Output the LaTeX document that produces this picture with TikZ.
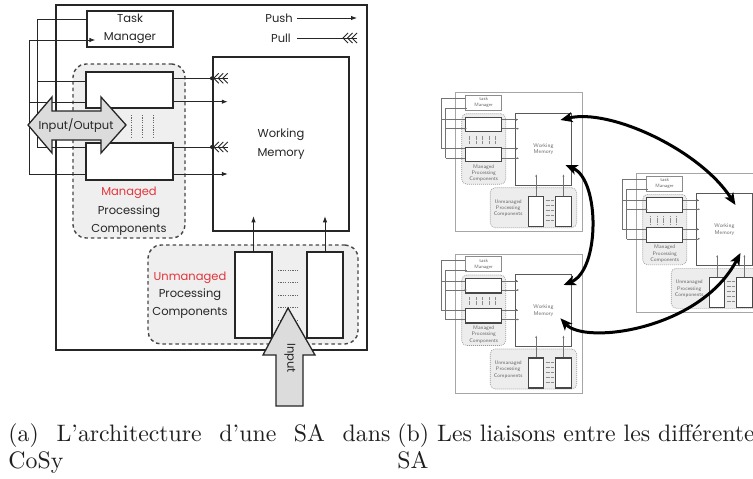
\documentclass[tikz,border=0pt]{standalone}
\usepackage{fontspec}
\newfontfamily\diagfont{Poppins}
\usetikzlibrary{arrows.meta,calc}
\definecolor{ink}{HTML}{262626}
\definecolor{redtxt}{HTML}{E3343C}
\definecolor{lightfill}{HTML}{EFEFEF}
\definecolor{arrowfill}{HTML}{DCDCDC}
\tikzset{
  box/.style={draw=ink, fill=white, line width=1.5pt, inner sep=0pt, text=ink, align=center,
    font=\diagfont\fontsize{11.5}{18}\selectfont},
  dashedbox/.style={draw=ink!85, fill=lightfill, line width=1.4pt, dash pattern=on 3.5pt off 3pt,
    rounded corners=13pt, inner sep=0pt},
  wire/.style={draw=ink, line width=0.9pt},
  pusharrow/.style={wire, -{Latex[length=6pt,width=4.5pt]}},
  lbl/.style={inner sep=0pt, text=ink, align=center, font=\diagfont\fontsize{11.5}{18}\selectfont},
  dotline/.style={draw=ink!70, line width=0.8pt, dash pattern=on 1.2pt off 1.2pt},
  captxt/.style={inner sep=0pt, text=black!88, font=\fontsize{10}{12}\selectfont, scale=2.38},
  pics/pullend/.style={code={
    \foreach \d in {-14,-9.5,-5}{\draw[ink,line width=0.9pt] (\d+5,-5) -- (\d,0) -- (\d+5,5);}
  }},
  % styles of the small copies
  cpyouter/.style={draw=black!35, line width=0.8pt},
  cpytm/.style={draw=black!45, fill=white, line width=0.6pt, inner sep=0pt, align=center,
    text=black!60, font=\sffamily\fontsize{4.8}{6}\selectfont},
  cpycomp/.style={draw=black!72, fill=white, line width=1.2pt, inner sep=0pt},
  cpywm/.style={draw=black!65, fill=white, line width=0.9pt, inner sep=0pt, align=center,
    text=black!60, font=\sffamily\fontsize{5.4}{6.8}\selectfont},
  cpydash/.style={draw=black!40, fill=black!7, line width=0.6pt, dash pattern=on 1pt off 1pt,
    rounded corners=5pt, inner sep=0pt},
  cpytxt/.style={inner sep=0pt, align=center, text=black!60, font=\sffamily\fontsize{5.2}{6.4}\selectfont},
  cpywire/.style={draw=black!55, line width=0.5pt},
  cpypush/.style={cpywire, -{Latex[length=2.5pt,width=2pt]}},
  cpydot/.style={draw=black!45, line width=0.5pt, dash pattern=on 0.6pt off 0.6pt},
  pics/sacopy/.style={code={
    \draw[cpyouter] (0,0) rectangle (126.5,139);
    \node[cpydash, minimum width=44pt, minimum height=70.5pt] (-mg) at (28,56.25) {};
    \node[cpydash, minimum width=86.5pt, minimum height=40pt] (-ug) at (77.75,115) {};
    \node[cpytm, minimum width=36pt, minimum height=15pt] (-tm) at (28,10) {task\\Manager};
    \node[cpycomp, minimum width=36pt, minimum height=14.5pt] (-c1) at (28,31.75) {};
    \node[cpycomp, minimum width=36pt, minimum height=14.5pt] (-c2) at (28,61.75) {};
    \node[cpywm, minimum width=55.5pt, minimum height=72pt] (-wm) at (87.75,56.5) {Working\\Memory};
    \node[cpytxt] (-mt) at (28,80.5) {Managed\\Processing\\Components};
    \node[cpytxt] (-ut) at (52.5,115.5) {Unmanaged\\Processing\\Components};
    \node[cpycomp, minimum width=15pt, minimum height=30pt] (-u1) at (80.5,119) {};
    \node[cpycomp, minimum width=15.5pt, minimum height=30pt] (-u2) at (107.75,119) {};
    % left wiring
    \draw[cpywire] ($(-tm.west)+(0,-4)$) -| (-14.5,56) -- ($(-c2.west)+(0,-5.75)$);
    \draw[cpywire] (-14.5,27) -- ($(-c1.west)+(0,-4.75)$);
    \draw[cpywire] (-10,65.5) -- (-10,16) -- ($(-tm.west)+(2,6)$);
    \draw[cpypush] (-10,36) -- ($(-c1.west)+(2,4.25)$);
    \draw[cpywire] (-10,65.5) -- ($(-c2.west)+(0,3.75)$);
    % right wiring
    \draw[cpywire] ($(-c1.east)+(0,-4.75)$) -- ($(-c1.east)+(16,-4.75)$);
    \fill[black!60] ($(-c1.east)+(14,-4.75)$) circle (1);
    \draw[cpypush] ($(-c1.east)+(0,4.25)$) -- ++(17,0);
    \draw[cpywire] ($(-c2.east)+(0,-5.75)$) -- ($(-c2.east)+(16,-5.75)$);
    \fill[black!60] ($(-c2.east)+(14,-5.75)$) circle (1);
    \draw[cpypush] ($(-c2.east)+(0,3.75)$) -- ++(17,0);
    % dotted marks
    \foreach \xx in {14,20.5,27,33.5,40}{\draw[cpydot] (\xx,43) -- (\xx,51);}
    \foreach \yy in {108,113,118,123,128}{\draw[cpydot] (90,\yy) -- (98,\yy);}
    % unmanaged to WM
    \draw[cpypush] (-u1.north) -- ++(0,-22);
    \draw[cpypush] (-u2.north) -- ++(0,-22);
  }}
}
\begin{document}
\begin{tikzpicture}[x=1pt,y=-1pt]
\useasboundingbox (0,0) rectangle (753,479);
\clip (0,0) rectangle (753,479);
\fill[white] (0,0) rectangle (753,479);

%%%%%%%%%%%%%%%% (a) main diagram
\draw[ink, line width=2.2pt] (56,5) rectangle (367,350);
\node[dashedbox, minimum width=112pt, minimum height=174pt] (mg) at (129,151) {};
\node[dashedbox, minimum width=210pt, minimum height=99pt] (ug) at (253,294.5) {};

\node[box, line width=1.3pt, minimum width=86pt, minimum height=36pt] (tm) at (130,29) {Task\\Manager};
\node[box, line width=2pt, minimum width=136pt, minimum height=174pt,
      font=\diagfont\fontsize{11.5}{19}\selectfont] (wm) at (281,144) {Working\\Memory};
\node[box, minimum width=87pt, minimum height=36pt] (c1) at (129.5,90) {};
\node[box, minimum width=87pt, minimum height=37pt] (c2) at (129.5,161.5) {};
\node[box, minimum width=37pt, minimum height=86pt] (u1) at (253.5,295) {};
\node[box, minimum width=36pt, minimum height=86pt] (u2) at (325,295) {};

% legend
\node[lbl, anchor=east] (pushlbl) at (293,18) {Push};
\draw[pusharrow] ($(pushlbl.east)+(4,0)$) -- ++(60,0);
\node[lbl, anchor=east] (pulllbl) at (291,38) {Pull};
\draw[wire] ($(pulllbl.east)+(6,0)$) -- ++(60,0) coordinate (pe0);
\pic at (pe0) {pullend};

% left wiring
\draw[wire] ($(tm.west)+(0,-10)$) -| (37,147) -- ($(c2.west)+(0,-14.5)$);
\draw[wire] (37,81) -- ($(c1.west)+(0,-9)$);
\draw[wire, -{Latex[length=6pt,width=4.5pt]}] (29,174) -- (29,40) -- ($(tm.west)+(9,11)$);
\draw[wire] (29,102) -- ($(c1.west)+(0,12)$);
\draw[wire] (29,174) -- ($(c2.west)+(0,12.5)$);

% component -> working memory
\draw[wire] ($(c1.east)+(0,-11.7)$) -- ++(54,0) coordinate (pe1);
\pic at (pe1) {pullend};
\fill[ink] (wm.west |- pe1) circle (2);
\draw[pusharrow] ($(c1.east)+(0,11.7)$) -- ++(54,0);
\draw[wire] ($(c2.east)+(0,-14.5)$) -- ++(54,0) coordinate (pe2);
\pic at (pe2) {pullend};
\fill[ink] (wm.west |- pe2) circle (2);
\draw[pusharrow] ($(c2.east)+(0,12.5)$) -- ++(54,0);

% unmanaged -> working memory
\draw[pusharrow] (u1.north) -- ++(0,-35);
\draw[pusharrow] (u2.north) -- ++(0,-35);

% dotted marks
\foreach \xx in {131,142,153}{\draw[dotline] (\xx,115) -- (\xx,137);}
\foreach \yy in {270,282.7,295,307.7,320}{\draw[dotline] (278,\yy) -- (298,\yy);}

% texts of the groups
\node[lbl, font=\diagfont\fontsize{11.5}{18.7}\selectfont] (mtxt) at (129,211.5)
  {\textcolor{redtxt}{Managed}\\Processing\\Components};
\node[lbl, font=\diagfont\fontsize{11.5}{17.5}\selectfont] (utxt) at (190,295)
  {\textcolor{redtxt}{Unmanaged}\\Processing\\Components};

% Input/Output double arrow
\draw[ink, line width=1.3pt, fill=arrowfill, line join=miter]
  (28,125) -- (52,97) -- (52,111) -- (101,111) -- (101,97) -- (126,125)
  -- (101,153) -- (101,140) -- (52,140) -- (52,153) -- cycle;
\node[lbl] (io) at (76,125.5) {Input/Output};

% Input arrow
\draw[ink, line width=1.3pt, fill=arrowfill, line join=miter]
  (288,308) -- (315,355) -- (303,355) -- (303,406) -- (276,406) -- (276,355) -- (263,355) -- cycle;
\node[lbl, rotate=-90] (inp) at (290,358) {Input};

%%%%%%%%%%%%%%%% (b) three copies
\pic (tl) at (455.7,92.7) {sacopy};
\pic (bl) at (455.7,254) {sacopy};
\pic (rt) at (636.7,173.3) {sacopy};

\tikzset{bigarc/.style={draw=black, line width=3pt,
  {Stealth[length=12pt,width=10pt,inset=3pt]}-{Stealth[length=12pt,width=10pt,inset=3pt]}}}
\draw[bigarc] ($(tl-wm.east)+(-11.2,-29.2)$) .. controls (610,108) and (700,150) .. ($(rt-wm.east)+(-17.2,-24.8)$);
\draw[bigarc] ($(tl-wm.east)+(-6.2,15.8)$) .. controls (600,180) and (600,270) .. ($(bl-wm.east)+(-8,-25.5)$);
\draw[bigarc] ($(bl-wm.east)+(-11.2,7.8)$) .. controls (585,345) and (700,330) .. ($(rt-wm.east)+(-12.2,23.2)$);

%%%%%%%%%%%%%%%% captions
\node[captxt, anchor=base west] (capa1) at (8,441) {\makebox[160.5pt][s]{(a) L'architecture d'une SA dans}};
\node[captxt, anchor=base west] (capa2) at (8,468) {CoSy};
\node[captxt, anchor=base west] (capb1) at (397,441) {(b) Les liaisons entre les différentes};
\node[captxt, anchor=base west] (capb2) at (397,468) {SA};
\end{tikzpicture}
\end{document}
